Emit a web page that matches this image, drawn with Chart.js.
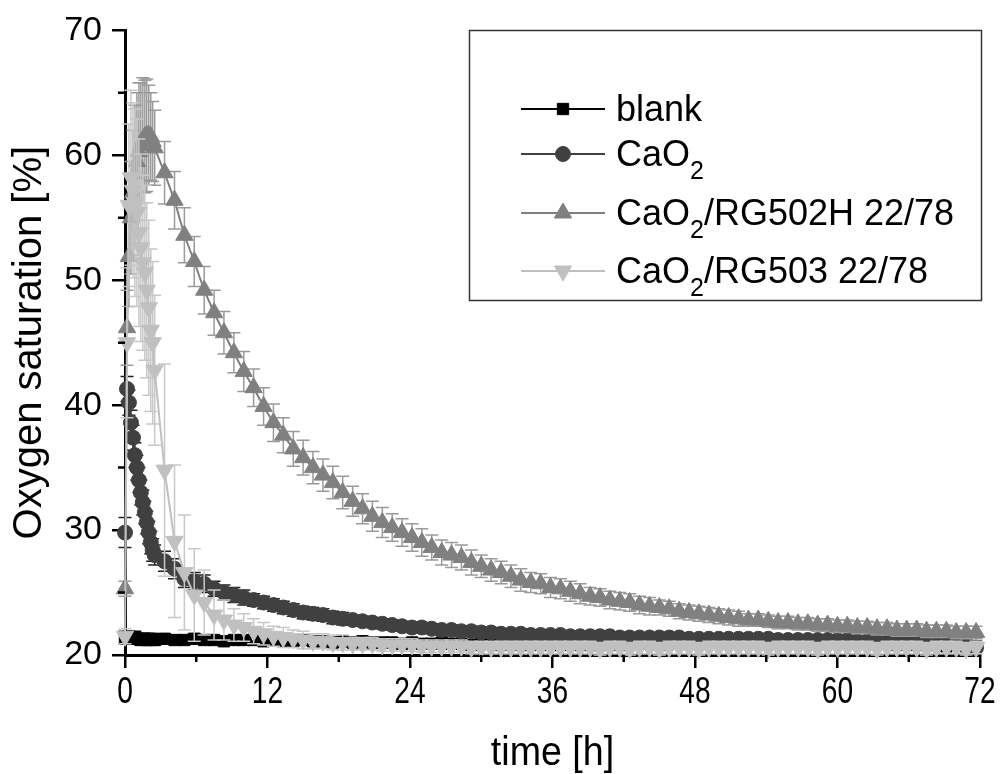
<!DOCTYPE html>
<html>
<head>
<meta charset="utf-8">
<script src="https://cdn.jsdelivr.net/npm/chart.js@4.4.1/dist/chart.umd.min.js"></script>
<style>
  html, body { margin: 0; padding: 0; background: #fff; }
</style>
</head>
<body>
<canvas id="oxygenChart" width="1002" height="774"></canvas>
<script>
// sampling times [h]
var hours = [
  0, 0.17, 0.33, 0.5, 0.67, 0.83, 1, 1.17, 1.33, 1.5, 1.67, 1.83, 2, 2.17, 2.33,
  2.5, 3.33, 4.17, 5, 5.83, 6.67, 7.5, 8.33, 9.17, 10,
  10.83, 11.67, 12.5, 13.33, 14.17, 15, 15.83, 16.67, 17.5, 18.33,
  19.17, 20, 20.83, 21.67, 22.5, 23.33, 24.17, 25, 25.83, 26.67,
  27.5, 28.33, 29.17, 30, 30.83, 31.67, 32.5, 33.33, 34.17, 35,
  35.83, 36.67, 37.5, 38.33, 39.17, 40, 40.83, 41.67, 42.5, 43.33,
  44.17, 45, 45.83, 46.67, 47.5, 48.33, 49.17, 50, 50.83, 51.67,
  52.5, 53.33, 54.17, 55, 55.83, 56.67, 57.5, 58.33, 59.17, 60,
  60.83, 61.67, 62.5, 63.33, 64.17, 65, 65.83, 66.67, 67.5, 68.33,
  69.17, 70, 70.83, 71.67
];

var seriesNames = ['blank', 'CaO₂', 'CaO₂/RG502H 22/78', 'CaO₂/RG503 22/78'];

var blank = [
  21.4, 21.3, 21.4, 21.3, 21.3, 21.4, 21.3, 21.3, 21.2, 21.3, 21.3, 21.2, 21.3, 21.2, 21.3,
  21.2, 21.3, 21.2, 21.2, 21.3, 21.2, 21.2, 21.1, 21.2, 21.2,
  21.2, 21.1, 21.2, 21.1, 21.1, 21.2, 21.1, 21.1, 21.0, 21.1,
  21.0, 21.1, 21.0, 21.0, 21.0, 20.9, 21.0, 20.9, 20.9, 21.0,
  20.9, 20.9, 20.8, 20.9, 20.9, 20.8, 20.9, 20.8, 20.8, 20.9,
  20.8, 20.8, 20.9, 20.8, 20.8, 20.8, 20.9, 20.8, 20.8, 20.9,
  20.9, 20.8, 20.9, 20.9, 21.0, 20.9, 21.0, 21.0, 21.0, 21.1,
  21.0, 21.1, 21.0, 21.1, 21.1, 21.0, 21.1, 21.0, 21.1, 21.0,
  21.0, 20.9, 21.0, 20.9, 20.9, 20.8, 20.9, 20.8, 20.8, 20.8,
  20.7, 20.8, 20.7, 20.7
];
var blankErr = [
  0.5, 0.4, 0.5, 0.4, 0.4, 0.5, 0.4, 0.4, 0.4, 0.4, 0.4, 0.4, 0.4, 0.4, 0.4,
  0.4, 0.4, 0.3, 0.3, 0.4, 0.3, 0.3, 0.3, 0.3, 0.3,
  0.3, 0.3, 0.3, 0.3, 0.3, 0.3, 0.3, 0.3, 0.3, 0.3,
  0.3, 0.3, 0.3, 0.3, 0.3, 0.3, 0.3, 0.3, 0.3, 0.3,
  0.3, 0.3, 0.3, 0.3, 0.3, 0.3, 0.3, 0.3, 0.3, 0.3,
  0.3, 0.3, 0.3, 0.3, 0.3, 0.3, 0.3, 0.3, 0.3, 0.3,
  0.3, 0.3, 0.3, 0.3, 0.3, 0.3, 0.3, 0.3, 0.3, 0.3,
  0.3, 0.3, 0.3, 0.3, 0.3, 0.3, 0.3, 0.3, 0.3, 0.3,
  0.3, 0.3, 0.3, 0.3, 0.3, 0.3, 0.3, 0.3, 0.3, 0.3,
  0.3, 0.3, 0.3, 0.3
];

var cao2 = [
  29.8, 41.3, 40.2, 38.6, 37.4, 36.0, 35.0, 34.0, 33.0, 32.2, 31.4, 30.6, 29.8, 29.0, 28.4,
  28.0, 27.5, 26.9, 26.1, 25.9, 25.7, 25.3, 25.0, 24.8, 24.6,
  24.4, 24.2, 24.0, 23.8, 23.6, 23.4, 23.3, 23.2, 23.0, 22.9,
  22.8, 22.7, 22.6, 22.5, 22.4, 22.3, 22.2, 22.2, 22.1, 22.0,
  22.0, 21.9, 21.9, 21.8, 21.8, 21.7, 21.7, 21.7, 21.6, 21.6,
  21.6, 21.6, 21.5, 21.5, 21.5, 21.5, 21.5, 21.4, 21.4, 21.4,
  21.4, 21.4, 21.4, 21.4, 21.3, 21.3, 21.3, 21.3, 21.3, 21.3,
  21.3, 21.3, 21.3, 21.2, 21.2, 21.2, 21.2, 21.2, 21.2, 21.2,
  21.2, 21.1, 21.1, 21.1, 21.1, 21.1, 21.1, 21.0, 21.0, 21.0,
  21.0, 21.0, 20.9, 20.6
];
var cao2Err = [
  1.2, 1.0, 1.0, 1.0, 1.0, 1.0, 1.0, 1.0, 1.0, 1.0, 0.9, 0.9, 0.9, 0.9, 0.9,
  0.8, 0.8, 0.8, 0.7, 0.7, 0.7, 0.6, 0.6, 0.6, 0.6,
  0.5, 0.5, 0.5, 0.5, 0.5, 0.5, 0.5, 0.5, 0.5, 0.5,
  0.4, 0.4, 0.4, 0.4, 0.4, 0.4, 0.4, 0.4, 0.4, 0.4,
  0.4, 0.4, 0.4, 0.4, 0.4, 0.4, 0.4, 0.4, 0.4, 0.4,
  0.3, 0.3, 0.3, 0.3, 0.3, 0.3, 0.3, 0.3, 0.3, 0.3,
  0.3, 0.3, 0.3, 0.3, 0.3, 0.3, 0.3, 0.3, 0.3, 0.3,
  0.3, 0.3, 0.3, 0.3, 0.3, 0.3, 0.3, 0.3, 0.3, 0.3,
  0.3, 0.3, 0.3, 0.3, 0.3, 0.3, 0.3, 0.3, 0.3, 0.3,
  0.3, 0.3, 0.3, 0.3
];

var rg502h = [
  25.3, 46.2, 51.9, 55.0, 57.0, 58.5, 59.5, 60.3, 60.8, 61.2, 61.5, 61.6, 61.6, 61.5, 61.1,
  60.6, 58.6, 56.4, 53.6, 51.5, 49.2, 47.4, 45.8, 44.2, 42.7,
  41.4, 39.9, 38.6, 37.6, 36.5, 35.8, 35.0, 34.4, 33.8, 33.0,
  32.3, 31.7, 31.1, 30.6, 30.2, 29.8, 29.4, 29.0, 28.6, 28.2,
  28.0, 27.8, 27.4, 27.1, 26.8, 26.6, 26.3, 26.0, 25.8, 25.7,
  25.4, 25.3, 25.1, 24.9, 24.7, 24.6, 24.4, 24.3, 24.2, 24.0,
  23.9, 23.8, 23.7, 23.5, 23.4, 23.3, 23.2, 23.1, 23.0, 22.9,
  22.8, 22.8, 22.7, 22.6, 22.6, 22.5, 22.5, 22.4, 22.4, 22.3,
  22.3, 22.2, 22.2, 22.1, 22.1, 22.0, 22.0, 22.0, 21.9, 21.9,
  21.9, 21.8, 21.8, 21.8
];
var rg502hErr = [
  0.6, 3.0, 4.0, 4.5, 5.0, 5.5, 5.5, 5.5, 5.0, 5.0, 4.5, 4.5, 4.0, 3.5, 3.2,
  3.0, 2.5, 2.3, 2.2, 2.0, 1.9, 1.8, 1.7, 1.6, 1.6,
  1.5, 1.5, 1.5, 1.4, 1.4, 1.4, 1.3, 1.3, 1.3, 1.3,
  1.2, 1.2, 1.2, 1.2, 1.1, 1.1, 1.1, 1.1, 1.0, 1.0,
  1.0, 1.0, 1.0, 0.9, 0.9, 0.9, 0.9, 0.9, 0.8, 0.8,
  0.8, 0.8, 0.8, 0.8, 0.7, 0.7, 0.7, 0.7, 0.7, 0.7,
  0.7, 0.6, 0.6, 0.6, 0.6, 0.6, 0.6, 0.6, 0.6, 0.6,
  0.5, 0.5, 0.5, 0.5, 0.5, 0.5, 0.5, 0.5, 0.5, 0.5,
  0.5, 0.5, 0.5, 0.5, 0.5, 0.5, 0.5, 0.5, 0.5, 0.5,
  0.5, 0.5, 0.5, 0.5
];

var rg503 = [
  21.5, 45.0, 56.0, 58.2, 57.2, 56.2, 55.4, 53.8, 52.6, 51.4, 50.6, 49.2, 47.8, 46.0, 45.0,
  42.8, 34.8, 29.1, 26.6, 24.8, 24.2, 23.2, 22.8, 22.4, 22.2,
  21.9, 21.7, 21.5, 21.4, 21.3, 21.2, 21.1, 21.1, 21.0, 21.0,
  20.9, 20.9, 20.9, 20.8, 20.8, 20.8, 20.8, 20.7, 20.7, 20.7,
  20.7, 20.7, 20.6, 20.6, 20.6, 20.6, 20.6, 20.6, 20.6, 20.6,
  20.6, 20.6, 20.6, 20.6, 20.6, 20.5, 20.6, 20.6, 20.5, 20.6,
  20.6, 20.5, 20.6, 20.6, 20.6, 20.5, 20.6, 20.6, 20.6, 20.6,
  20.6, 20.6, 20.5, 20.6, 20.6, 20.6, 20.6, 20.5, 20.6, 20.6,
  20.6, 20.6, 20.6, 20.5, 20.6, 20.6, 20.6, 20.6, 20.5, 20.6,
  20.6, 20.6, 20.5, 20.6
];
var rg503Err = [
  0.6, 6.0, 6.5, 7.0, 7.0, 7.5, 7.5, 7.5, 7.5, 7.0, 7.0, 7.0, 7.0, 6.5, 6.5,
  6.0, 8.5, 6.1, 4.6, 3.7, 2.6, 2.0, 1.6, 1.3, 1.1,
  1.0, 0.9, 0.8, 0.8, 0.7, 0.7, 0.6, 0.6, 0.6, 0.6,
  0.5, 0.5, 0.5, 0.5, 0.5, 0.5, 0.5, 0.5, 0.5, 0.5,
  0.5, 0.5, 0.5, 0.5, 0.5, 0.5, 0.5, 0.5, 0.5, 0.5,
  0.5, 0.5, 0.5, 0.5, 0.5, 0.5, 0.5, 0.5, 0.5, 0.5,
  0.5, 0.5, 0.5, 0.5, 0.5, 0.5, 0.5, 0.5, 0.5, 0.5,
  0.5, 0.5, 0.5, 0.5, 0.5, 0.5, 0.5, 0.5, 0.5, 0.5,
  0.5, 0.5, 0.5, 0.5, 0.5, 0.5, 0.5, 0.5, 0.5, 0.5,
  0.5, 0.5, 0.5, 0.5
];

var xTicks = [0, 12, 24, 36, 48, 60, 72];
var yTicks = [20, 30, 40, 50, 60, 70];
var xTitle = 'time [h]';
var yTitle = 'Oxygen saturation [%]';

var sansFont = '"Liberation Sans", Arial, sans-serif';

function toPoints(values) {
  return hours.map(function (h, i) { return { x: h, y: values[i] }; });
}

function makeSeries(i, values, errors, color, errColor, style, radius, rotation, order) {
  return {
    label: seriesNames[i],
    data: toPoints(values),
    errors: errors,
    errorColor: errColor,
    showLine: true,
    borderColor: color,
    backgroundColor: color,
    pointBackgroundColor: color,
    pointBorderColor: color,
    borderWidth: 2,
    pointBorderWidth: 1,
    pointStyle: style,
    pointRadius: radius,
    pointRotation: rotation,
    order: order,
    clip: 12
  };
}

// error bars, drawn just under each series
var errorBars = {
  id: 'errorBars',
  beforeDatasetDraw: function (chart, args) {
    var ds = chart.data.datasets[args.index];
    if (!ds.errors) return;
    var xs = chart.scales.x, ys = chart.scales.y, ctx = chart.ctx;
    ctx.save();
    ctx.strokeStyle = ds.errorColor;
    ctx.lineWidth = 1.5;
    ds.data.forEach(function (p, i) {
      var e = ds.errors[i];
      var x = xs.getPixelForValue(p.x);
      var y1 = ys.getPixelForValue(p.y + e);
      var y2 = ys.getPixelForValue(p.y - e);
      ctx.beginPath();
      ctx.moveTo(x, y1); ctx.lineTo(x, y2);
      ctx.moveTo(x - 6.5, y1); ctx.lineTo(x + 6.5, y1);
      ctx.moveTo(x - 6.5, y2); ctx.lineTo(x + 6.5, y2);
      ctx.stroke();
    });
    ctx.restore();
  }
};

// minor ticks plus the condensed x labels and title
var xAxisExtras = {
  id: 'xAxisExtras',
  afterDraw: function (chart) {
    var xs = chart.scales.x, ys = chart.scales.y, ctx = chart.ctx;
    var area = chart.chartArea;
    ctx.save();
    ctx.strokeStyle = '#000';
    ctx.lineWidth = 2.5;
    ctx.beginPath();
    for (var i = 0; i < xTicks.length - 1; i++) {
      var xm = xs.getPixelForValue((xTicks[i] + xTicks[i + 1]) / 2);
      ctx.moveTo(xm, area.bottom); ctx.lineTo(xm, area.bottom + 7);
    }
    for (var j = 0; j < yTicks.length - 1; j++) {
      var ym = ys.getPixelForValue((yTicks[j] + yTicks[j + 1]) / 2);
      ctx.moveTo(area.left, ym); ctx.lineTo(area.left - 7, ym);
    }
    ctx.stroke();

    ctx.fillStyle = '#000';
    ctx.textAlign = 'center';
    ctx.textBaseline = 'alphabetic';
    ctx.font = '37px ' + sansFont;
    xTicks.forEach(function (v) {
      var x = xs.getPixelForValue(v);
      ctx.save();
      ctx.translate(x, area.bottom + 48);
      ctx.scale(0.76, 1);
      ctx.fillText(String(v), 0, 0);
      ctx.restore();
    });
    ctx.font = '40px ' + sansFont;
    ctx.save();
    ctx.translate((area.left + area.right) / 2, 765);
    ctx.scale(0.94, 1);
    ctx.fillText(xTitle, 0, 0);
    ctx.restore();
    ctx.restore();
  }
};

function drawSubText(ctx, text, x, y, size, subSize) {
  var parts = text.split('₂');
  parts.forEach(function (part, k) {
    ctx.font = size + 'px ' + sansFont;
    ctx.fillText(part, x, y);
    x += ctx.measureText(part).width;
    if (k < parts.length - 1) {
      ctx.font = subSize + 'px ' + sansFont;
      ctx.fillText('2', x, y + 13);
      x += ctx.measureText('2').width;
    }
  });
}

// boxed legend with subscripts
var legendBox = {
  id: 'legendBox',
  afterDraw: function (chart) {
    var ctx = chart.ctx;
    var rows = [109, 154, 213, 271];
    ctx.save();
    ctx.strokeStyle = '#333';
    ctx.lineWidth = 1.5;
    ctx.strokeRect(469.5, 30.5, 512, 270);
    chart.data.datasets.forEach(function (ds, i) {
      var y = rows[i];
      ctx.strokeStyle = ds.borderColor;
      ctx.lineWidth = 2;
      ctx.beginPath();
      ctx.moveTo(521, y); ctx.lineTo(605, y);
      ctx.stroke();
      ctx.fillStyle = ds.borderColor;
      ctx.lineWidth = 1;
      Chart.helpers.drawPoint(ctx, {
        pointStyle: ds.pointStyle, rotation: ds.pointRotation,
        radius: ds.pointRadius, borderWidth: 1
      }, 563, y);
      ctx.fillStyle = '#000';
      ctx.textBaseline = 'alphabetic';
      ctx.textAlign = 'left';
      drawSubText(ctx, ds.label, 616, y + 12, 36, 25);
    });
    ctx.restore();
  }
};

var ctx = document.getElementById('oxygenChart').getContext('2d');
var oxygenChart = new Chart(ctx, {
  type: 'scatter',
  data: {
    datasets: [
      makeSeries(0, blank, blankErr, '#000000', '#000000', 'rect', 8, 0, 4),
      makeSeries(1, cao2, cao2Err, '#404040', '#202020', 'circle', 7.5, 0, 3),
      makeSeries(2, rg502h, rg502hErr, '#808080', '#9a9a9a', 'triangle', 10, 0, 2),
      makeSeries(3, rg503, rg503Err, '#c0c0c0', '#c8c8c8', 'triangle', 10, 180, 1)
    ]
  },
  options: {
    responsive: false,
    animation: false,
    events: [],
    layout: { padding: { top: 30, right: 22, left: 0, bottom: 0 } },
    plugins: {
      legend: { display: false },
      tooltip: { enabled: false }
    },
    scales: {
      x: {
        type: 'linear',
        min: 0,
        max: 72,
        afterFit: function (s) { s.height = 119; },
        afterBuildTicks: function (s) { s.ticks = xTicks.map(function (v) { return { value: v }; }); },
        border: { display: true, color: '#000', width: 3 },
        grid: { drawOnChartArea: false, drawTicks: true, tickLength: 13, color: '#000', lineWidth: 2.5 },
        ticks: { display: false },
        title: { display: false }
      },
      y: {
        min: 20,
        max: 70,
        afterFit: function (s) { s.width = 125; },
        afterBuildTicks: function (s) { s.ticks = yTicks.map(function (v) { return { value: v }; }); },
        border: { display: true, color: '#000', width: 3 },
        grid: { drawOnChartArea: false, drawTicks: true, tickLength: 13, color: '#000', lineWidth: 2.5 },
        ticks: { color: '#000', padding: 10, font: { family: sansFont, size: 34 } },
        title: {
          display: true, text: yTitle, color: '#000',
          font: { family: sansFont, size: 40, lineHeight: 1.2 }, padding: { top: 6, bottom: 0 }
        }
      }
    }
  },
  plugins: [errorBars, xAxisExtras, legendBox]
});
</script>
</body>
</html>
